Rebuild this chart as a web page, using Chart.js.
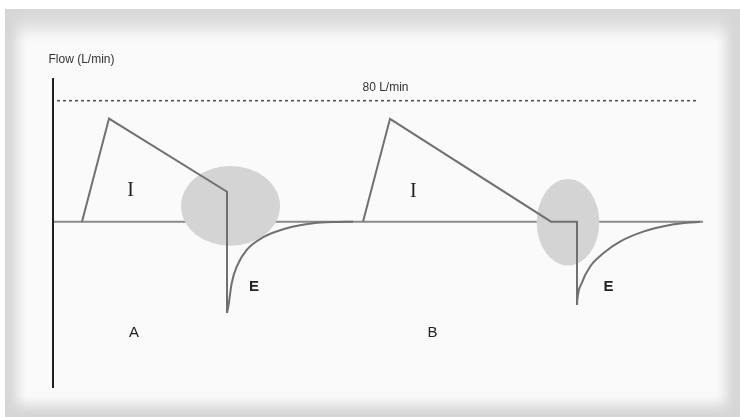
<!DOCTYPE html>
<html>
<head>
<meta charset="utf-8">
<script src="https://cdn.jsdelivr.net/npm/chart.js@4/dist/chart.umd.min.js"></script>
<style>
  html, body { margin: 0; padding: 0; background: #ffffff; }
  body { width: 740px; height: 417px; position: relative; overflow: hidden; }
  #frame { position: absolute; left: 5px; top: 9px; width: 735px; height: 408px; background: #fafafa;
           box-shadow: inset 16px 0 12px -4px #d6d6d6, inset -18px 0 12px -4px #d6d6d6,
                       inset 0 26px 16px -6px #d9d9d9, inset 0 -16px 12px -4px #d6d6d6; }
  #wrap { position: absolute; left: 0; top: 0; width: 740px; height: 417px; }
</style>
</head>
<body>
<div id="frame"></div>
<div id="wrap"><canvas id="c" width="740" height="417"></canvas></div>
<script>
// ---- data (time in s, flow in L/min) ----
const inspA_t    = [0.29, 0.56, 1.74, 1.74];
const inspA_flow = [0, 68.2, 19.8, -60.4];
const expA_t     = [1.74, 1.753, 1.787, 1.837, 1.937, 2.103, 2.337, 2.603, 2.84, 3.0];
const expA_flow  = [-60.4, -56.2, -40.7, -29.8, -18.7, -10.3, -4.4, -1.1, -0.2, 0];
const inspB_t    = [3.10, 3.37, 4.98, 5.24, 5.24];
const inspB_flow = [0, 68.0, 0, 0, -55.1];
const expB_t     = [5.24, 5.243, 5.287, 5.37, 5.503, 5.67, 5.903, 6.17, 6.47];
const expB_flow  = [-55.1, -51.8, -40.7, -29.8, -20.9, -13.2, -6.6, -2.2, 0];
const baseline_t = [0, 6.5];
const baseline_flow = [0, 0];
const peakLimit_t = [0.04, 6.46];
const peakLimit_flow = [80, 80];
const axis_t = [0, 0];
const axis_flow = [-110, 95];
// highlighted zones: centre time, centre flow, half-width (s), half-height (L/min)
const zoneCenter_t = [1.775, 5.15];
const zoneCenter_flow = [10.4, -0.4];
const zoneHalfWidth_t = [0.495, 0.313];
const zoneHalfHeight_flow = [26.4, 28.6];
// text labels
const labelTexts = ['I', 'E', 'I', 'E', 'A', 'B'];
const labelT = [0.777, 2.01, 3.603, 5.555, 0.81, 3.795];
const labelFlow = [20.5, -43.0, 20.0, -43.0, -73.5, -73.5];
const limitLabel = '80 L/min';
const yTitle = 'Flow (L/min)';

const pts = (t, f) => t.map((v, i) => ({ x: v, y: f[i] }));

const flowColor = '#707070';

const overlayPlugin = {
  id: 'overlay',
  afterDatasetDraw(chart, args) {
    if (args.index !== 0) return; // right after baseline: draw zones
    const { ctx, scales: { x, y } } = chart;
    ctx.save();
    ctx.fillStyle = '#d4d4d4';
    for (let i = 0; i < zoneCenter_t.length; i++) {
      const cx = x.getPixelForValue(zoneCenter_t[i]);
      const cy = y.getPixelForValue(zoneCenter_flow[i]);
      const rx = Math.abs(x.getPixelForValue(zoneCenter_t[i] + zoneHalfWidth_t[i]) - cx);
      const ry = Math.abs(y.getPixelForValue(zoneCenter_flow[i] + zoneHalfHeight_flow[i]) - cy);
      ctx.beginPath();
      ctx.ellipse(cx, cy, rx, ry, 0, 0, Math.PI * 2);
      ctx.fill();
    }
    ctx.restore();
  },
  afterDraw(chart) {
    const { ctx, scales: { x, y } } = chart;
    ctx.save();
    ctx.textAlign = 'center';
    ctx.textBaseline = 'middle';
    const styles = [
      { font: '20px "Liberation Serif", serif', color: '#1e1e1e' },
      { font: 'bold 15px "Liberation Sans", Arial, sans-serif', color: '#222' },
      { font: '20px "Liberation Serif", serif', color: '#1e1e1e' },
      { font: 'bold 15px "Liberation Sans", Arial, sans-serif', color: '#222' },
      { font: '15px "Liberation Sans", Arial, sans-serif', color: '#222' },
      { font: '15px "Liberation Sans", Arial, sans-serif', color: '#222' }
    ];
    labelTexts.forEach((txt, i) => {
      ctx.font = styles[i].font;
      ctx.fillStyle = styles[i].color;
      ctx.fillText(txt, x.getPixelForValue(labelT[i]), y.getPixelForValue(labelFlow[i]));
    });
    // limit label
    ctx.font = '12px "Liberation Sans", Arial, sans-serif';
    ctx.fillStyle = '#333';
    ctx.fillText(limitLabel, x.getPixelForValue(3.325), y.getPixelForValue(88.5));
    // y title
    ctx.textAlign = 'left';
    ctx.font = '12px "Liberation Sans", Arial, sans-serif';
    ctx.fillText(yTitle, x.getPixelForValue(-0.045), y.getPixelForValue(107));
    ctx.restore();
  }
};

new Chart(document.getElementById('c'), {
  type: 'line',
  data: {
    datasets: [
      { data: pts(baseline_t, baseline_flow), borderColor: '#8a8a8a', borderWidth: 2, order: 6 },
      { data: pts(peakLimit_t, peakLimit_flow), borderColor: '#555', borderWidth: 1.6, borderDash: [3, 3], order: 5 },
      { data: pts(axis_t, axis_flow), borderColor: '#1e1e1e', borderWidth: 2, order: 4 },
      { data: pts(inspA_t, inspA_flow), borderColor: flowColor, borderWidth: 2, order: 1 },
      { data: pts(expA_t, expA_flow), borderColor: flowColor, borderWidth: 2, cubicInterpolationMode: 'monotone', order: 1 },
      { data: pts(inspB_t, inspB_flow), borderColor: flowColor, borderWidth: 2, order: 1 },
      { data: pts(expB_t, expB_flow), borderColor: flowColor, borderWidth: 2, cubicInterpolationMode: 'monotone', order: 1 }
    ]
  },
  options: {
    responsive: false,
    animation: false,
    devicePixelRatio: 1,
    layout: { padding: { left: 53, top: 78, right: 17, bottom: 29 } },
    elements: { point: { radius: 0 }, line: { tension: 0, borderCapStyle: 'butt', borderJoinStyle: 'miter' } },
    datasets: { line: { clip: false, fill: false } },
    plugins: { legend: { display: false }, tooltip: { enabled: false } },
    scales: {
      x: { type: 'linear', min: 0, max: 6.7, display: false },
      y: { type: 'linear', min: -110, max: 95, display: false }
    }
  },
  plugins: [overlayPlugin]
});
</script>
</body>
</html>
